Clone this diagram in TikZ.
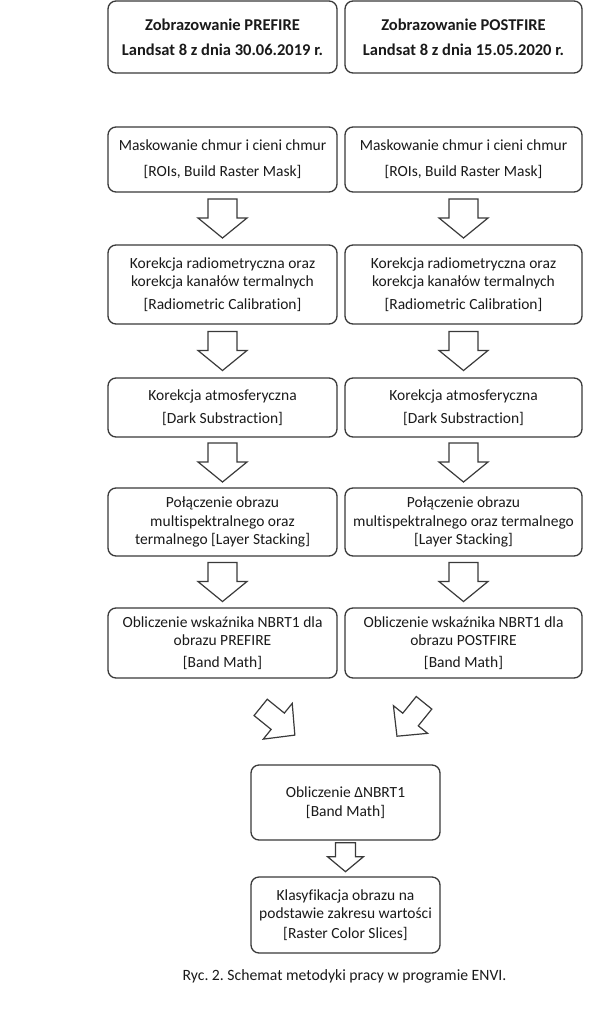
\documentclass[tikz,border=0pt]{standalone}
\usepackage{fontspec}
\setmainfont{Carlito}[Ligatures={NoCommon,NoContextual}]
\usetikzlibrary{calc}
\frenchspacing
\definecolor{edge}{HTML}{3A3A3A}
\definecolor{ink}{HTML}{1A1A1A}
\tikzset{
  box/.style={draw=edge, line width=1.3pt, rounded corners=8pt, align=center,
    text=ink, inner sep=2pt, font=\fontsize{15.5}{18.5}\selectfont},
  lbox/.style={box, minimum width=229pt},
  rbox/.style={box, minimum width=237pt},
  cbox/.style={box, minimum width=189pt},
  arrowline/.style={draw=edge, line width=1.2pt, line join=miter, fill=white},
  caption/.style={text=ink, font=\fontsize{15.7}{18.5}\selectfont}
}
% position, angle, length, head length, shaft width, head width
\newcommand\blockarrow[6]{\draw[arrowline, shift={#1}, rotate=#2]
  (-#3/2,-#5/2) -- (#3/2-#4,-#5/2) -- (#3/2-#4,-#6/2) -- (#3/2,0) --
  (#3/2-#4,#6/2) -- (#3/2-#4,#5/2) -- (-#3/2,#5/2) -- cycle;}
\begin{document}
\begin{tikzpicture}[x=1pt,y=-1pt]
\useasboundingbox[fill=white] (0,0) rectangle (611,1024);
% top boxes
\node[lbox, minimum height=72pt, font=\fontsize{16.5}{18.5}\selectfont\bfseries] (t1) at (222.5,37)
  {Zobrazowanie PREFIRE\\[6.5pt]Landsat 8 z dnia 30.06.2019 r.};
\node[rbox, minimum height=72pt, font=\fontsize{16.5}{18.5}\selectfont\bfseries] (t2) at (463.5,37)
  {Zobrazowanie POSTFIRE\\[6.5pt]Landsat 8 z dnia 15.05.2020 r.};
% row 1
\node[lbox, minimum height=65pt] (a1) at (222.5,159.5)
  {Maskowanie chmur i cieni chmur\\[7.5pt]{[ROIs, Build Raster Mask]}};
\node[rbox, minimum height=65pt] (a2) at (463.5,159.5)
  {Maskowanie chmur i cieni chmur\\[7.5pt]{[ROIs, Build Raster Mask]}};
% row 2
\node[lbox, minimum height=79pt] (b1) at (222.5,284.5)
  {Korekcja radiometryczna oraz\\korekcja kanałów termalnych\\[4.5pt]{[Radiometric Calibration]}};
\node[rbox, minimum height=79pt] (b2) at (463.5,284.5)
  {Korekcja radiometryczna oraz\\korekcja kanałów termalnych\\[4.5pt]{[Radiometric Calibration]}};
% row 3
\node[lbox, minimum height=59pt] (c1) at (222.5,407.5)
  {Korekcja atmosferyczna\\[4.5pt]{[Dark Substraction]}};
\node[rbox, minimum height=59pt] (c2) at (463.5,407.5)
  {Korekcja atmosferyczna\\[4.5pt]{[Dark Substraction]}};
% row 4
\node[lbox, minimum height=68pt] (d1) at (222.5,522)
  {Połączenie obrazu\\multispektralnego oraz\\termalnego [Layer Stacking]};
\node[rbox, minimum height=68pt] (d2) at (463.5,522)
  {Połączenie obrazu\\multispektralnego oraz termalnego\\{[Layer Stacking]}};
% row 5
\node[lbox, minimum height=70pt] (e1) at (222.5,643)
  {Obliczenie wskaźnika NBRT1 dla\\obrazu PREFIRE\\[3.5pt]{[Band Math]}};
\node[rbox, minimum height=70pt] (e2) at (463.5,643)
  {Obliczenie wskaźnika NBRT1 dla\\obrazu POSTFIRE\\[3.5pt]{[Band Math]}};
% row 6, 7
\node[cbox, minimum height=75pt] (f) at (345.5,802.5)
  {Obliczenie ΔNBRT1\\{[Band Math]}};
\node[cbox, minimum height=76pt] (g) at (345.5,915)
  {Klasyfikacja obrazu na\\podstawie zakresu wartości\\[1.5pt]{[Raster Color Slices]}};
\node[caption] (cap) at (344.5,976) {Ryc. 2. Schemat metodyki pracy w programie ENVI.};
% vertical block arrows
\foreach \u/\v in {a1/b1,b1/c1,c1/d1,d1/e1,a2/b2,b2/c2,c2/d2,d2/e2}{
  \blockarrow{($(\u.south)!0.5!(\v.north)$)}{-90}{39}{20}{29}{49}
}
\coordinate (fs) at (345.5,838);
\blockarrow{($(fs)!0.5!(g.north)$)}{-90}{29}{15}{20}{36}
% diagonal block arrows
\coordinate (dl) at (277.75,721.25);
\coordinate (dr) at (410.5,719.5);
\blockarrow{(dl)}{-39}{44}{22}{21}{46}
\blockarrow{(dr)}{-129}{43}{21.5}{20}{44}
\end{tikzpicture}
\end{document}
